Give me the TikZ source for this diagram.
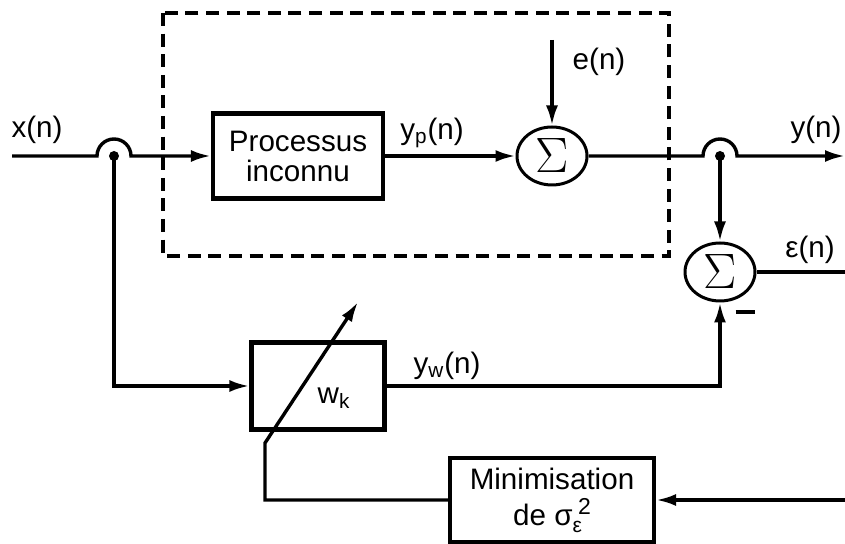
\documentclass[tikz,border=0pt]{standalone}
\usepackage{fontspec}
\setmainfont{Liberation Sans}
\usetikzlibrary{arrows.meta,positioning,shapes.geometric}

\begin{document}
\begin{tikzpicture}[
    x=0.5pt, y=-0.5pt,
    every node/.style={font=\fontsize{14.8}{15}\selectfont},
    block/.style={rectangle, draw, line width=2.1pt, align=center,
                  inner sep=0pt},
    sum/.style={ellipse, draw, line width=1.5pt, minimum width=35pt,
                minimum height=29pt, inner sep=0pt, font=\fontsize{25}{25}\selectfont},
    wire/.style={line width=1.7pt},
    arrow/.style={wire, -{Latex[length=10pt,width=6pt]}},
    dashbox/.style={line width=1.8pt, dash pattern=on 6.5pt off 3.8pt},
    dot/.style={circle, fill, inner sep=0pt, minimum size=5pt}
  ]
    \useasboundingbox (0,0) rectangle (845,544);

    % blocks
    \node[block, minimum width=85pt, minimum height=42.5pt] (proc) at (298,156)
        {Processus\\inconnu};
    \node[sum] (sumA) at (552,156) {$\Sigma$};
    \node[sum] (sumB) at (720,272) {$\Sigma$};
    \node[block, minimum width=66.5pt, minimum height=43.5pt] (wk) at (318,386) {};
    \node (wklabel) at (334,398) {w\textsubscript{k}};
    \node[block, minimum width=102pt, minimum height=42pt,
          font=\fontsize{14.8}{18}\selectfont] (mini) at (552,500)
        {Minimisation\\de σ\raisebox{-3.5pt}{\fontsize{10.5}{10}\selectfont ε}\kern-2pt%
         \raisebox{5.5pt}{\fontsize{11.5}{10}\selectfont 2}};

    % points
    \coordinate (xin) at (12,156);
    \coordinate (jA) at (114,156);
    \coordinate (jB) at (720,156);
    \coordinate (yout) at (845,156);
    \coordinate (ein) at (552,40);
    \coordinate (epsout) at (845,272);
    \coordinate (errin) at (845,500);
    \coordinate (wkin) at (114,386);
    \coordinate (ywcorner) at (720,386);
    \coordinate (tbot) at (265,500);
    \coordinate (tknee) at (265,443);
    \coordinate (ttip) at (358,302);
    \node[dot] at (jA) {};
    \node[dot] at (jB) {};

    % unknown system frame
    \draw[dashbox] (163,13) rectangle (669,256);

    % connectors
    \draw[arrow] (xin) -- ([xshift=-8.5pt]jA) arc[start angle=180, end angle=0, radius=8.5pt]
        -- (proc);
    \draw[arrow] (proc) -- (sumA);
    \draw[arrow] (ein) -- (sumA);
    \draw[arrow] (sumA) -- ([xshift=-8.5pt]jB) arc[start angle=180, end angle=0, radius=8.5pt]
        -- (yout);
    \draw[arrow] (jB) -- (sumB);
    \draw[wire] (sumB) -- (epsout);
    \draw[arrow] (jA) -- (wkin) -- (wk);
    \draw[arrow] (wk) -- (ywcorner) -- (sumB);
    \draw[arrow] (errin) -- (mini);
    \draw[arrow] (mini) -- (tbot) -- (tknee) -- (ttip);

    % labels
    \node at (37,130) {x(n)};
    \node at (432,133) {y\textsubscript{p}(n)};
    \node at (599,62) {e(n)};
    \node at (816,130) {y(n)};
    \node at (810,250) {ε(n)};
    \node at (745,312) {\rule{9.5pt}{1.6pt}};
    \node at (447,366) {y\textsubscript{w}(n)};
\end{tikzpicture}
\end{document}
